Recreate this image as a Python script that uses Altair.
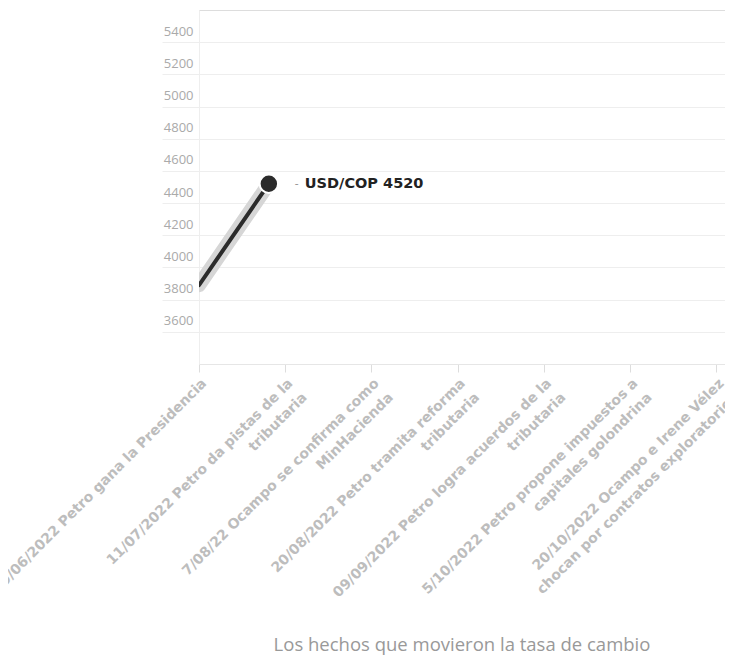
import json
import altair as alt
import pandas as pd

events = [
    "19/06/2022 Petro gana la Presidencia",
    "11/07/2022 Petro da pistas de la|tributaria",
    "7/08/22 Ocampo se confirma como|MinHacienda",
    "20/08/2022 Petro tramita reforma|tributaria",
    "09/09/2022 Petro logra acuerdos de la|tributaria",
    "5/10/2022 Petro propone impuestos a|capitales golondrina",
    "20/10/2022 Ocampo e Irene Vélez|chocan por contratos exploratorios",
]
tick_pos = list(range(len(events)))
x_idx = [0, 0.81]
rate = [3890, 4520]
is_end = [False, True]
y_ticks = [3600, 3800, 4000, 4200, 4400, 4600, 4800, 5000, 5200, 5400]
title_text = "Los hechos que movieron la tasa de cambio"

df = pd.DataFrame({"x": x_idx, "rate": rate, "end": is_end})
label_expr = json.dumps([e.split("|") for e in events], ensure_ascii=False) + "[datum.value]"

FONT = "Open Sans"

xenc = alt.X(
    "x:Q",
    scale=alt.Scale(domain=[0, 6.1], nice=False, zero=False),
    axis=alt.Axis(
        values=tick_pos, labelExpr=label_expr, labelAngle=-45, labelAlign="right",
        labelBaseline="top", labelFontSize=14, labelFontWeight="bold",
        labelColor="#bdbdbd", labelFont="DejaVu Sans",
        labelLineHeight=20, tickSize=8, tickColor="#dddddd", domainColor="#e6e6e6",
        grid=False, title=None, labelPadding=4, labelOverlap=False, labelBound=False,
        labelFlush=False, labelLimit=0,
    ),
)
yenc = alt.Y(
    "rate:Q",
    scale=alt.Scale(domain=[3400, 5600], nice=False, zero=False),
    axis=alt.Axis(
        values=y_ticks, format="d", grid=True, gridColor="#eeeeee", tickSize=37,
        tickColor="#eeeeee", labelPadding=-31, labelBaseline="bottom", labelOffset=-4,
        labelAlign="right", labelFontSize=13, labelColor="#aaaaaa", labelFont=FONT,
        domainColor="#eeeeee", title=None,
    ),
)

base = alt.Chart(df).encode(x=xenc, y=yenc)

halo = base.mark_line(color="#d6d6d6", strokeWidth=14, strokeCap="round", clip=True)
line = base.mark_line(color="#2b2b2b", strokeWidth=4, strokeCap="round", clip=True)
dot = base.transform_filter(alt.datum.end).mark_point(
    filled=True, size=340, color="#2b2b2b", stroke="white", strokeWidth=2, opacity=1
)
dash = base.transform_filter(alt.datum.end).mark_text(
    text="-", dx=26, align="left", baseline="middle", fontSize=12, color="#999999", font=FONT
)
label = base.transform_filter(alt.datum.end).transform_calculate(
    lab="'USD/COP ' + datum.rate"
).mark_text(
    dx=36, align="left", baseline="middle", fontSize=14.5, fontWeight="bold",
    color="#222222", font="DejaVu Sans"
).encode(text="lab:N")

chart = alt.layer(halo, line, dot, dash, label).properties(
    width=526, height=354,
    padding={"left": 191, "top": 2, "right": 0, "bottom": 294},
    autosize="none",
    title=alt.TitleParams(
        title_text, orient="bottom", anchor="middle", fontSize=18.5, color="#999999",
        font=FONT, fontWeight="normal", offset=22,
    ),
).configure_view(stroke=None).configure(background="white")

chart.save("out.html", embed_options={"renderer": "svg", "actions": False})
